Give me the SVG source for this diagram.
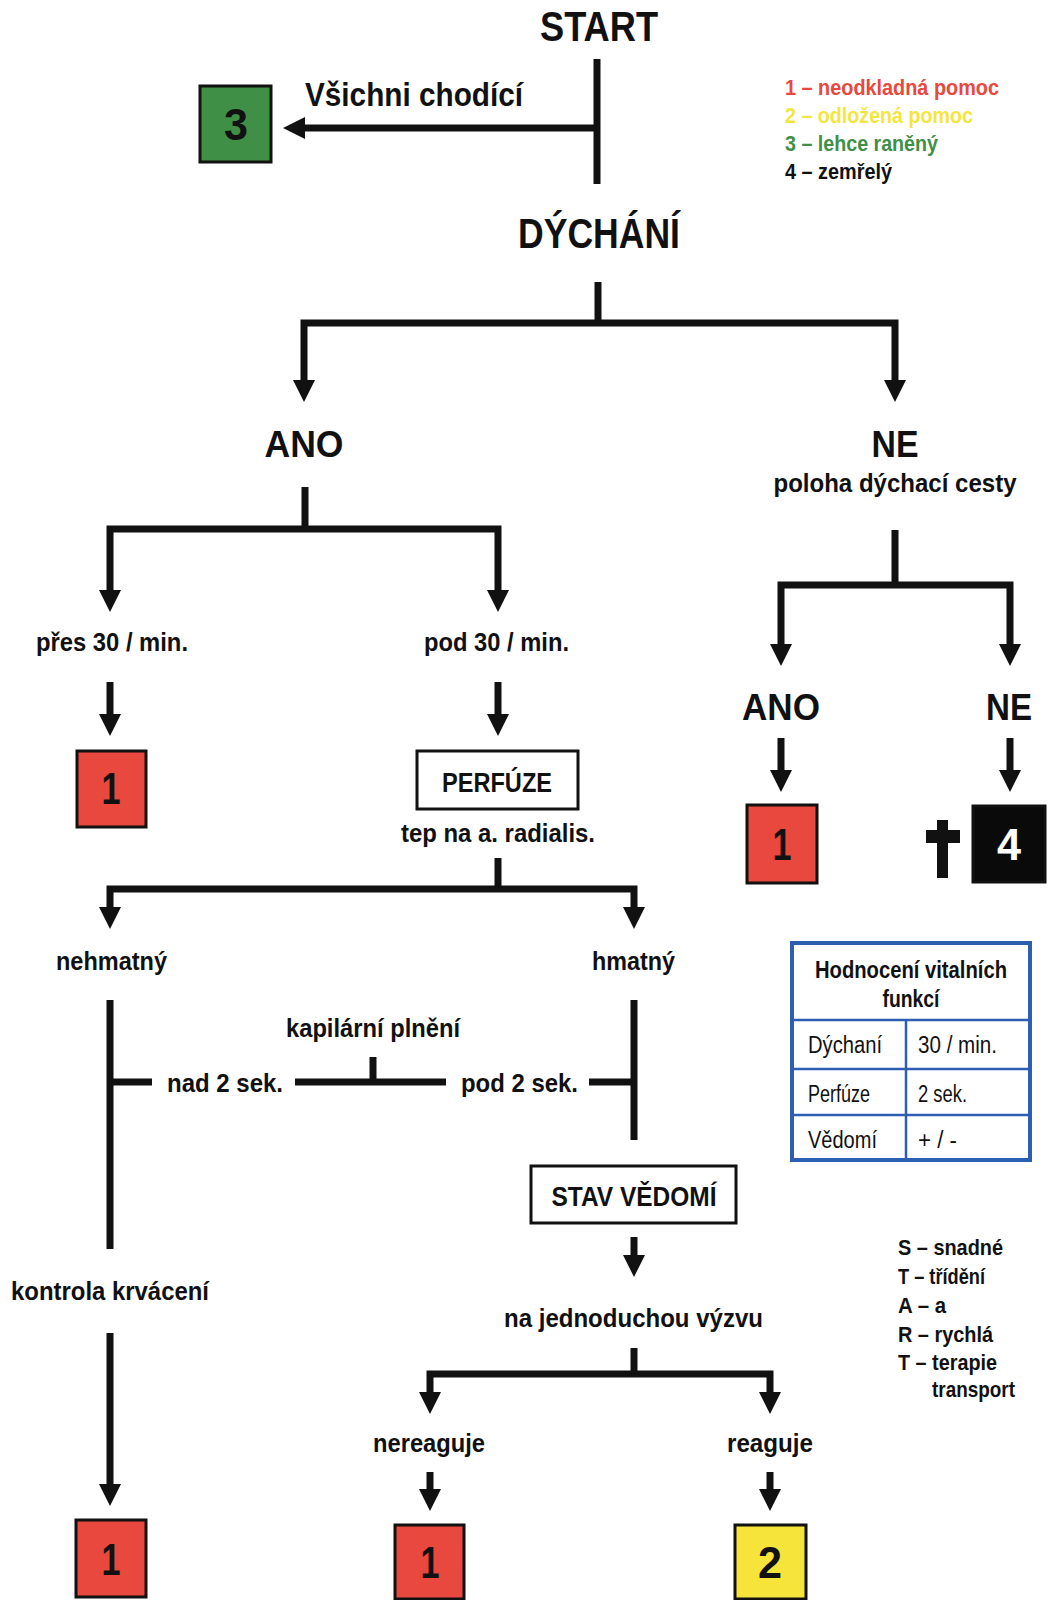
<svg xmlns="http://www.w3.org/2000/svg" width="1048" height="1600" viewBox="0 0 1048 1600">
<defs>
<style>
text{font-family:"Liberation Sans",Arial,sans-serif;font-weight:bold;fill:#111}
.big{font-size:42px}
.mid{font-size:36px}
.lab{font-size:26px}
.box{font-size:27px}
.num{font-size:44px;text-anchor:middle}
.leg{font-size:22px}
.tab{font-size:23px;font-weight:normal}
.tabh{font-size:23px;text-anchor:middle}
.c{text-anchor:middle}
.ln{fill:none;stroke:#111;stroke-width:7;stroke-linejoin:miter;stroke-linecap:butt}
.sq{stroke:#111;stroke-width:3}
.red{fill:#e8483d}
.grn{fill:#3f8f46}
.yel{fill:#f6e43a}
.blk{fill:#0a0a0a}
.frame{fill:#fff;stroke:#111;stroke-width:3}
.tl{stroke:#2c5fb2;fill:none}
</style>
<marker id="ah" markerUnits="userSpaceOnUse" markerWidth="24" markerHeight="24" refX="1" refY="11" orient="auto-start-reverse" viewBox="0 0 24 24">
<path d="M0,0 L22,11 L0,22 z" fill="#111"/>
</marker>
</defs>
<rect x="0" y="0" width="1048" height="1600" fill="#fff"/>

<g id="connectors">
<path class="ln" d="M597,59 V184"/>
<path class="ln" d="M597,128 H304" marker-end="url(#ah)"/>
<path class="ln" d="M598,282 V323"/>
<path class="ln" d="M304,381 V323 H895 V381" marker-start="url(#ah)" marker-end="url(#ah)"/>
<path class="ln" d="M305,487 V529"/>
<path class="ln" d="M110,591 V529 H498 V591" marker-start="url(#ah)" marker-end="url(#ah)"/>
<path class="ln" d="M110,682 V715" marker-end="url(#ah)"/>
<path class="ln" d="M498,682 V715" marker-end="url(#ah)"/>
<path class="ln" d="M895,530 V585"/>
<path class="ln" d="M781,645 V585 H1010 V645" marker-start="url(#ah)" marker-end="url(#ah)"/>
<path class="ln" d="M781,738 V771" marker-end="url(#ah)"/>
<path class="ln" d="M1010,738 V771" marker-end="url(#ah)"/>
<path class="ln" d="M498,858 V889"/>
<path class="ln" d="M110,908 V889 H634 V908" marker-start="url(#ah)" marker-end="url(#ah)"/>
<path class="ln" d="M110,1000 V1249"/>
<path class="ln" d="M110,1082 H152"/>
<path class="ln" d="M634,1000 V1140"/>
<path class="ln" d="M589,1082 H634"/>
<path class="ln" d="M295,1082 H446"/>
<path class="ln" d="M373,1057 V1082"/>
<path class="ln" d="M110,1333 V1485" marker-end="url(#ah)"/>
<path class="ln" d="M634,1237 V1256" marker-end="url(#ah)"/>
<path class="ln" d="M634,1348 V1374"/>
<path class="ln" d="M430,1393 V1374 H770 V1393" marker-start="url(#ah)" marker-end="url(#ah)"/>
<path class="ln" d="M430,1472 V1490" marker-end="url(#ah)"/>
<path class="ln" d="M770,1472 V1490" marker-end="url(#ah)"/>
</g>

<g id="start"><text class="big c" x="599" y="41" textLength="118" lengthAdjust="spacingAndGlyphs">START</text></g>
<g id="walking"><text class="lab" style="font-size:33px" x="305" y="106" textLength="218" lengthAdjust="spacingAndGlyphs">Všichni chodící</text></g>
<g id="cat3-walking"><rect class="sq grn" x="200" y="86" width="71" height="76"/><text class="num" x="236" y="140" textLength="24" lengthAdjust="spacingAndGlyphs">3</text></g>

<g id="legend-categories">
<text class="leg" x="785" y="95" textLength="214" lengthAdjust="spacingAndGlyphs" style="fill:#e8483d">1 – neodkladná pomoc</text>
<text class="leg" x="785" y="123" textLength="188" lengthAdjust="spacingAndGlyphs" style="fill:#f3e640">2 – odložená pomoc</text>
<text class="leg" x="785" y="151" textLength="153" lengthAdjust="spacingAndGlyphs" style="fill:#3f8f46">3 – lehce raněný</text>
<text class="leg" x="785" y="179" textLength="107" lengthAdjust="spacingAndGlyphs">4 – zemřelý</text>
</g>

<g id="breathing"><text class="big c" x="599" y="248" textLength="162" lengthAdjust="spacingAndGlyphs">DÝCHÁNÍ</text></g>
<g id="breath-yes"><text class="mid c" x="304" y="457" textLength="79" lengthAdjust="spacingAndGlyphs">ANO</text></g>
<g id="breath-no"><text class="mid c" x="895" y="457" textLength="47" lengthAdjust="spacingAndGlyphs">NE</text><text class="lab c" x="895" y="492" textLength="243" lengthAdjust="spacingAndGlyphs">poloha dýchací cesty</text></g>

<g id="over30"><text class="lab" x="36" y="651" textLength="152" lengthAdjust="spacingAndGlyphs">přes 30 / min.</text></g>
<g id="under30"><text class="lab" x="424" y="651" textLength="145" lengthAdjust="spacingAndGlyphs">pod 30 / min.</text></g>
<g id="cat1-over30"><rect class="sq red" x="77" y="751" width="69" height="76"/><text class="num" x="111" y="804" textLength="19" lengthAdjust="spacingAndGlyphs">1</text></g>
<g id="perfusion"><rect class="frame" x="417" y="751" width="161" height="58"/><text class="box c" x="497" y="792" textLength="110" lengthAdjust="spacingAndGlyphs">PERFÚZE</text><text class="lab" x="401" y="842" textLength="194" lengthAdjust="spacingAndGlyphs">tep na a. radialis.</text></g>

<g id="airway-yes"><text class="mid c" x="781" y="720" textLength="78" lengthAdjust="spacingAndGlyphs">ANO</text></g>
<g id="airway-no"><text class="mid c" x="1009" y="720" textLength="46" lengthAdjust="spacingAndGlyphs">NE</text></g>
<g id="cat1-airway"><rect class="sq red" x="747" y="805" width="70" height="78"/><text class="num" x="782" y="860" textLength="19" lengthAdjust="spacingAndGlyphs">1</text></g>
<g id="cat4-dead"><rect x="937" y="820" width="11" height="58" fill="#111"/><rect x="926" y="830" width="34" height="13" fill="#111"/><rect class="sq blk" x="973" y="806" width="72" height="76"/><text class="num" x="1009" y="860" textLength="24" lengthAdjust="spacingAndGlyphs" style="fill:#fff">4</text></g>

<g id="pulse-absent"><text class="lab" x="56" y="970" textLength="111" lengthAdjust="spacingAndGlyphs">nehmatný</text></g>
<g id="pulse-present"><text class="lab" x="592" y="970" textLength="83" lengthAdjust="spacingAndGlyphs">hmatný</text></g>
<g id="capillary"><text class="lab" x="286" y="1037" textLength="174" lengthAdjust="spacingAndGlyphs">kapilární plnění</text></g>
<g id="over2"><text class="lab" x="167" y="1092" textLength="116" lengthAdjust="spacingAndGlyphs">nad 2 sek.</text></g>
<g id="under2"><text class="lab" x="461" y="1092" textLength="117" lengthAdjust="spacingAndGlyphs">pod 2 sek.</text></g>

<g id="vitals-table">
<rect x="792" y="943" width="238" height="217" fill="#fff" stroke="#2c5fb2" stroke-width="4"/>
<path class="tl" stroke-width="2.5" d="M792,1020 H1030 M792,1069 H1030 M792,1115 H1030 M906,1020 V1160"/>
<text class="tabh" x="911" y="978" textLength="192" lengthAdjust="spacingAndGlyphs">Hodnocení vitalních</text>
<text class="tabh" x="911" y="1007" textLength="57" lengthAdjust="spacingAndGlyphs">funkcí</text>
<text class="tab" x="808" y="1053" textLength="74" lengthAdjust="spacingAndGlyphs">Dýchaní</text>
<text class="tab" x="918" y="1053" textLength="79" lengthAdjust="spacingAndGlyphs">30 / min.</text>
<text class="tab" x="808" y="1102" textLength="62" lengthAdjust="spacingAndGlyphs">Perfúze</text>
<text class="tab" x="918" y="1102" textLength="49" lengthAdjust="spacingAndGlyphs">2 sek.</text>
<text class="tab" x="808" y="1148" textLength="69" lengthAdjust="spacingAndGlyphs">Vědomí</text>
<text class="tab" x="918" y="1148" textLength="39" lengthAdjust="spacingAndGlyphs">+ / -</text>
</g>

<g id="consciousness"><rect class="frame" x="531" y="1166" width="205" height="57"/><text class="box c" x="634" y="1206" textLength="165" lengthAdjust="spacingAndGlyphs">STAV VĚDOMÍ</text></g>
<g id="bleeding"><text class="lab" x="11" y="1300" textLength="198" lengthAdjust="spacingAndGlyphs">kontrola krvácení</text></g>
<g id="simple-command"><text class="lab" x="504" y="1327" textLength="259" lengthAdjust="spacingAndGlyphs">na jednoduchou výzvu</text></g>
<g id="no-response"><text class="lab" x="373" y="1452" textLength="112" lengthAdjust="spacingAndGlyphs">nereaguje</text></g>
<g id="response"><text class="lab" x="727" y="1452" textLength="86" lengthAdjust="spacingAndGlyphs">reaguje</text></g>

<g id="legend-start">
<text class="leg" x="898" y="1255" textLength="105" lengthAdjust="spacingAndGlyphs">S – snadné</text>
<text class="leg" x="898" y="1284" textLength="87" lengthAdjust="spacingAndGlyphs">T – třídění</text>
<text class="leg" x="898" y="1313" textLength="48" lengthAdjust="spacingAndGlyphs">A – a</text>
<text class="leg" x="898" y="1342" textLength="95" lengthAdjust="spacingAndGlyphs">R – rychlá</text>
<text class="leg" x="898" y="1370" textLength="99" lengthAdjust="spacingAndGlyphs">T – terapie</text>
<text class="leg" x="932" y="1397" textLength="83" lengthAdjust="spacingAndGlyphs">transport</text>
</g>

<g id="cat1-bleeding"><rect class="sq red" x="76" y="1520" width="70" height="77"/><text class="num" x="111" y="1575" textLength="19" lengthAdjust="spacingAndGlyphs">1</text></g>
<g id="cat1-noresponse"><rect class="sq red" x="395" y="1525" width="69" height="74"/><text class="num" x="430" y="1578" textLength="19" lengthAdjust="spacingAndGlyphs">1</text></g>
<g id="cat2-response"><rect class="sq yel" x="735" y="1525" width="71" height="74"/><text class="num" x="770" y="1578" textLength="24" lengthAdjust="spacingAndGlyphs">2</text></g>
</svg>
